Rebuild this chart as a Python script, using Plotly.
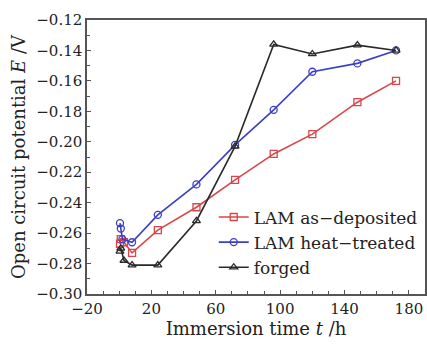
import plotly.graph_objects as go

t_asdep = [0.5, 1, 3, 8, 24, 48, 72, 96, 120, 148, 172]
e_asdep = [-0.267, -0.264, -0.266, -0.273, -0.258, -0.243, -0.225, -0.208, -0.195, -0.174, -0.160]

t_heat = [0.5, 1, 2, 8, 24, 48, 72, 96, 120, 148, 172]
e_heat = [-0.2535, -0.257, -0.264, -0.266, -0.248, -0.228, -0.202, -0.179, -0.154, -0.1485, -0.140]

t_forged = [0.5, 1, 3, 8, 24, 48, 72, 96, 120, 148, 172]
e_forged = [-0.272, -0.270, -0.278, -0.281, -0.281, -0.252, -0.203, -0.136, -0.1423, -0.1365, -0.140]

names = ["LAM as\u2212deposited", "LAM heat\u2212treated", "forged"]
colors = ["#d9464a", "#3b3fc4", "#2a2a2a"]
symbols = ["square-open", "circle-open", "triangle-up-open"]

FONT = "DejaVu Serif"

fig = go.Figure()
for t, e, n, c, s in zip([t_asdep, t_heat, t_forged], [e_asdep, e_heat, e_forged], names, colors, symbols):
    fig.add_trace(go.Scatter(
        x=t, y=e, name=n, mode="lines+markers",
        line=dict(color=c, width=1.6),
        marker=dict(symbol=s, size=7, color=c, line=dict(width=1.3, color=c)),
    ))

axis_common = dict(
    showline=True, linecolor="#555", linewidth=1.5, mirror=True,
    ticks="inside", tickcolor="#555", ticklen=4, tickwidth=1,
    showgrid=False, zeroline=False,
    tickfont=dict(family=FONT, size=15, color="#222"),
)

fig.update_xaxes(
    range=[-20, 190], tick0=-20, dtick=40,
    minor=dict(dtick=10, tick0=-20, ticks="inside", ticklen=3, tickcolor="#555"),
    title=dict(text="Immersion time <i>t</i> /h", font=dict(family=FONT, size=18, color="#222"), standoff=4),
    **axis_common,
)
fig.update_yaxes(
    range=[-0.30, -0.12], tick0=-0.30, dtick=0.02, tickformat=".2f",
    minor=dict(dtick=0.01, ticks="inside", ticklen=3, tickcolor="#555"),
    title=dict(text="Open circuit potential <i>E</i> /V", font=dict(family=FONT, size=18, color="#222"), standoff=6),
    **axis_common,
)

fig.update_layout(
    width=427, height=344,
    margin=dict(l=87, r=2, t=20, b=50, autoexpand=False),
    plot_bgcolor="white", paper_bgcolor="white",
    legend=dict(
        x=0.375, y=0.345, xanchor="left", yanchor="top",
        bgcolor="rgba(0,0,0,0)",
        font=dict(family=FONT, size=17, color="#222"),
        tracegroupgap=0, itemwidth=30,
    ),
)

fig.write_html("out.html")
